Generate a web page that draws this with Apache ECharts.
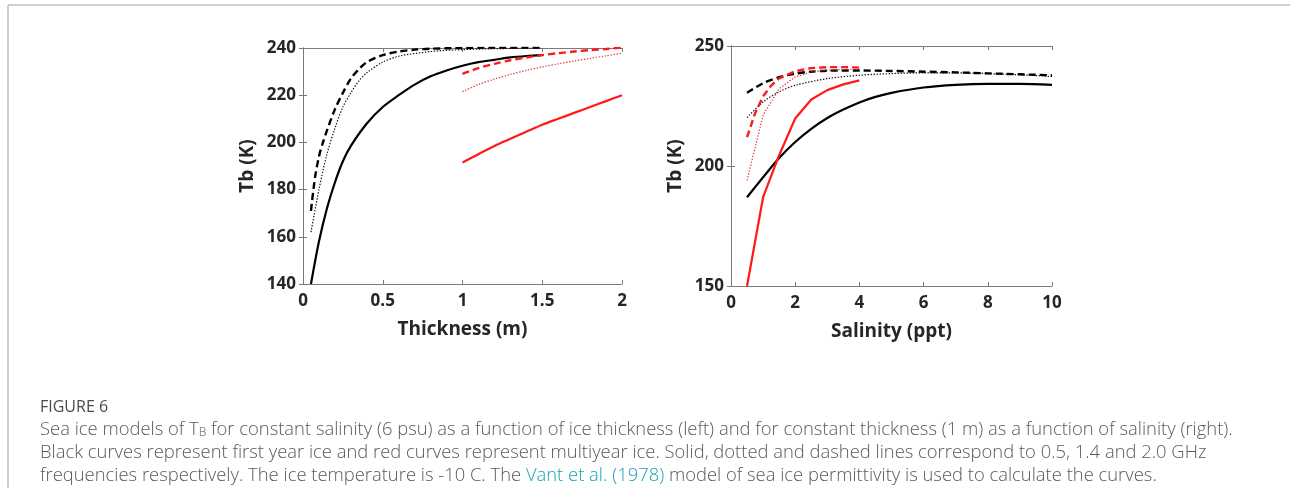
<!DOCTYPE html>
<html>
<head>
<meta charset="utf-8">
<script src="https://cdn.jsdelivr.net/npm/echarts@6/dist/echarts.min.js"></script>
<style>
  html, body { margin: 0; padding: 0; background: #fff; }
  #fig { width: 1290px; height: 488px; }
</style>
</head>
<body>
<div id="fig"></div>
<script>
// ---- left panel: Tb vs ice thickness (salinity 6 psu) ----
var thkBlack05 = [[0.05,140],[0.1,158],[0.15,172],[0.2,183],[0.25,192],[0.3,198.5],[0.4,208],[0.5,215],[0.6,220],[0.7,224.5],[0.8,228],[0.9,230.5],[1.0,232.5],[1.1,234],[1.2,235],[1.3,236],[1.4,236.6],[1.5,237]];
var thkBlack14 = [[0.05,162],[0.1,180],[0.15,195],[0.2,206],[0.25,215],[0.3,221],[0.35,226],[0.4,229.5],[0.5,234],[0.6,236.5],[0.8,238.5],[1.0,239.3],[1.2,239.7],[1.5,240]];
var thkBlack20 = [[0.05,171],[0.075,185],[0.1,194],[0.125,200],[0.15,205],[0.2,214],[0.25,221],[0.3,227],[0.35,231],[0.4,234],[0.5,237],[0.6,238.5],[0.7,239.3],[0.8,239.7],[1.0,240],[1.2,240.2],[1.5,240.2]];
var thkRed05 = [[1.0,191.5],[1.1,195],[1.2,198.5],[1.3,201.5],[1.4,204.5],[1.5,207.5],[1.6,210],[1.7,212.5],[1.8,215],[1.9,217.5],[2.0,220]];
var thkRed14 = [[1.0,221.5],[1.1,224.5],[1.2,226.8],[1.3,228.8],[1.4,230.5],[1.5,232],[1.6,233.3],[1.7,234.5],[1.8,235.6],[1.9,236.7],[2.0,237.8]];
var thkRed20 = [[1.0,229],[1.1,231.5],[1.2,233.3],[1.3,234.8],[1.4,236],[1.5,237],[1.6,237.8],[1.7,238.5],[1.8,239.1],[1.9,239.6],[2.0,240.2]];

// ---- right panel: Tb vs salinity (thickness 1 m) ----
var salBlack05 = [[0.5,187],[0.75,191.2],[1,195.3],[1.5,203.3],[2,210],[2.5,215.5],[3,220],[3.5,223.5],[4,226.5],[4.5,228.8],[5,230.5],[6,232.7],[7,233.8],[8,234.2],[9,234.2],[10,233.8]];
var salBlack14 = [[0.5,220.2],[1,226.7],[1.5,230.9],[2,233.6],[3,236.4],[4,237.8],[5,238.5],[6,238.8],[7,238.8],[8,238.5],[9,238],[10,237.3]];
var salBlack20 = [[0.5,230.5],[1,234.5],[1.5,237],[2,238.5],[2.5,239.3],[3,239.7],[4,239.8],[5,239.6],[6,239.3],[7,239],[8,238.6],[9,238.2],[10,237.8]];
var salRed05 = [[0.5,150],[1,187],[1.5,204.5],[2,219.8],[2.5,227.7],[3,231.6],[3.5,234],[4,235.7]];
var salRed14 = [[0.5,194],[1,221.2],[1.5,232.2],[2,237.1],[2.5,239.2],[3,239.9],[3.5,240.2],[4,240.2]];
var salRed20 = [[0.5,212],[0.75,222],[1,229],[1.25,233.5],[1.5,236.5],[2,239.5],[2.5,240.8],[3,241.2],[3.5,241.2],[4,241]];

var thkTicks = { min: 0, max: 2, interval: 0.5 };
var thkYTicks = { min: 140, max: 240, interval: 20 };
var salTicks = { min: 0, max: 10, interval: 2 };
var salYTicks = { min: 150, max: 250, interval: 50 };

var fig = echarts.init(document.getElementById('fig'));

var axisCol = '#7a7a7a';
var lblFont = { color: '#262626', fontSize: 17, fontWeight: 'bold', fontFamily: 'Open Sans' };
var nameFont = { color: '#262626', fontSize: 19, fontWeight: 'bold', fontFamily: 'Open Sans' };

function mainX(idx, t, name) {
    return {
        type: 'value', gridIndex: idx, min: t.min, max: t.max, interval: t.interval,
        name: name, nameLocation: 'middle', nameGap: 36, nameTextStyle: nameFont,
        axisLine: { show: true, lineStyle: { color: axisCol } },
        axisTick: { show: true, inside: true, length: 4, lineStyle: { color: axisCol } },
        axisLabel: Object.assign({ margin: 9 }, lblFont),
        splitLine: { show: false }
    };
}
function mainY(idx, t) {
    return {
        type: 'value', gridIndex: idx, min: t.min, max: t.max, interval: t.interval,
        name: 'Tb (K)', nameLocation: 'middle', nameGap: 46, nameTextStyle: nameFont,
        axisLine: { show: true, lineStyle: { color: axisCol } },
        axisTick: { show: true, inside: true, length: 4, lineStyle: { color: axisCol } },
        axisLabel: Object.assign({ margin: 7 }, lblFont),
        splitLine: { show: false }
    };
}
// mirror axes on top/right, ticks only (matlab box)
function boxAxis(idx, t, pos) {
    return {
        type: 'value', gridIndex: idx, min: t.min, max: t.max, interval: t.interval, position: pos,
        axisLine: { show: true, lineStyle: { color: axisCol } },
        axisTick: { show: true, inside: true, length: 4, lineStyle: { color: axisCol } },
        axisLabel: { show: false }, splitLine: { show: false }
    };
}

var solid = { type: 'solid', width: 2.2 };
var dotted = { type: [1.4, 1.6], width: 1.2 };
var dashed = { type: [7, 4], width: 2.4 };

function ln(name, data, xi, yi, color, style, smooth) {
    return {
        name: name, type: 'line', xAxisIndex: xi, yAxisIndex: yi, data: data,
        showSymbol: false, smooth: smooth, silent: true, animation: false,
        lineStyle: Object.assign({ color: color }, style)
    };
}

var capFont = { color: '#5a5a5a', fontSize: 18.4, fontWeight: 300, fontFamily: 'Open Sans' };

var option = {
    backgroundColor: '#fff',
    animation: false,
    grid: [
        { left: 303, top: 48, width: 319, height: 236 },
        { left: 731, top: 46, width: 321, height: 240 }
    ],
    xAxis: [
        mainX(0, thkTicks, 'Thickness (m)'),
        mainX(1, salTicks, 'Salinity (ppt)'),
        boxAxis(0, thkTicks, 'top'),
        boxAxis(1, salTicks, 'top')
    ],
    yAxis: [
        mainY(0, thkYTicks),
        mainY(1, salYTicks),
        boxAxis(0, thkYTicks, 'right'),
        boxAxis(1, salYTicks, 'right')
    ],
    series: [
        ln('FYI 0.5 GHz', thkBlack05, 0, 0, '#000', solid, 0.3),
        ln('FYI 1.4 GHz', thkBlack14, 0, 0, '#111', dotted, 0.3),
        ln('FYI 2.0 GHz', thkBlack20, 0, 0, '#000', dashed, 0.3),
        ln('MYI 0.5 GHz', thkRed05, 0, 0, '#ff1a1a', solid, 0.3),
        ln('MYI 1.4 GHz', thkRed14, 0, 0, '#e23a3a', dotted, 0.3),
        ln('MYI 2.0 GHz', thkRed20, 0, 0, '#ff1a1a', dashed, 0.3),
        ln('FYI 0.5 GHz', salBlack05, 1, 1, '#000', solid, 0.3),
        ln('FYI 1.4 GHz', salBlack14, 1, 1, '#111', dotted, 0.3),
        ln('FYI 2.0 GHz', salBlack20, 1, 1, '#000', dashed, 0.3),
        ln('MYI 0.5 GHz', salRed05, 1, 1, '#ff1a1a', solid, false),
        ln('MYI 1.4 GHz', salRed14, 1, 1, '#e23a3a', dotted, false),
        ln('MYI 2.0 GHz', salRed20, 1, 1, '#ff1a1a', dashed, false)
    ],
    title: [
        { text: 'FIGURE 6', left: 35, top: 394, textStyle: { color: '#4a4a4a', fontSize: 16, fontWeight: 500, fontFamily: 'Open Sans' } },
        {
            text: 'Sea ice models of T{sub|B} for constant salinity (6 psu) as a function of ice thickness (left) and for constant thickness (1 m) as a function of salinity (right).',
            left: 35, top: 416,
            textStyle: Object.assign({
                rich: {
                    sub: { color: '#5a5a5a', fontSize: 12, fontWeight: 300, fontFamily: 'Open Sans', verticalAlign: 'bottom', lineHeight: 14, padding: [7, 0, 0, 0] }
                }
            }, capFont)
        },
        {
            text: 'Black curves represent first year ice and red curves represent multiyear ice. Solid, dotted and dashed lines correspond to 0.5, 1.4 and 2.0 GHz',
            left: 35, top: 439, textStyle: capFont
        },
        {
            text: 'frequencies respectively. The ice temperature is -10 C. The {link|Vant et al. (1978)} model of sea ice permittivity is used to calculate the curves.',
            left: 35, top: 462,
            textStyle: Object.assign({
                rich: { link: { color: '#1aa0b8', fontSize: 18.4, fontWeight: 300, fontFamily: 'Open Sans' } }
            }, capFont)
        }
    ],
    graphic: [
        { type: 'line', silent: true, shape: { x1: 8, y1: 5, x2: 1290, y2: 5 }, style: { stroke: '#cfcfcf', lineWidth: 2 } },
        { type: 'line', silent: true, shape: { x1: 8, y1: 5, x2: 8, y2: 488 }, style: { stroke: '#cfcfcf', lineWidth: 2 } }
    ]
};
fig.setOption(option);
</script>
</body>
</html>
